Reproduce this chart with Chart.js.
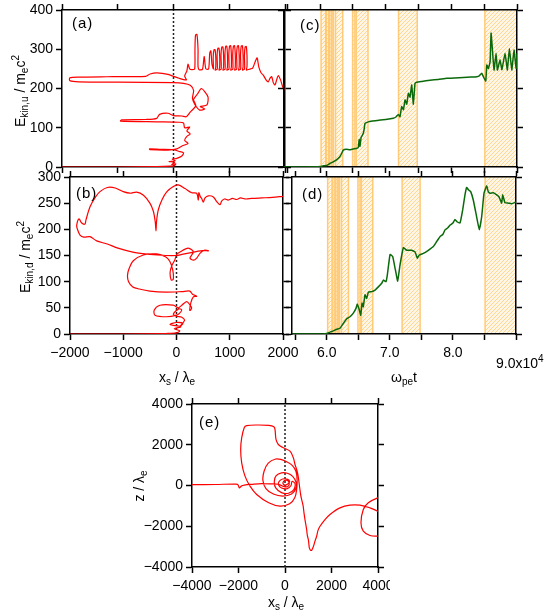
<!DOCTYPE html>
<html>
<head>
<meta charset="utf-8">
<script src="https://cdn.jsdelivr.net/npm/chart.js@4.4.1/dist/chart.umd.min.js"></script>
<style>
  body { margin:0; width:556px; height:610px; background:#fff; position:relative; overflow:hidden;
         font-family:"Liberation Sans", Arial, sans-serif; color:#000; }
  canvas { position:absolute; }
  .t { position:absolute; font-size:14px; white-space:nowrap; line-height:1; }
  .t sub { font-size:10px; vertical-align:-3px; }
  .t sup { font-size:10px; vertical-align:6px; }
  .rot { transform:translate(-50%,-50%) rotate(-90deg); }
  .ctr { transform:translate(-50%,-50%); }
  .tag { letter-spacing:1px; font-size:15px; }
</style>
</head>
<body>
<canvas id="panelA" width="285" height="176" style="left:15px;top:0"></canvas>
<canvas id="panelB" width="285" height="200" style="left:15px;top:170px"></canvas>
<canvas id="panelC" width="250" height="176" style="left:278px;top:0"></canvas>
<canvas id="panelD" width="250" height="200" style="left:278px;top:170px"></canvas>
<canvas id="panelE" width="250" height="200" style="left:140px;top:395px"></canvas>

<div class="t tag" style="left:72px;top:15px">(a)</div>
<div class="t tag" style="left:76px;top:185px">(b)</div>
<div class="t tag" style="left:300px;top:17px">(c)</div>
<div class="t tag" style="left:302px;top:186px">(d)</div>
<div class="t tag" style="left:199px;top:414px">(e)</div>

<div class="t rot" style="left:20px;top:91px">E<sub>kin,u</sub> / m<sub>e</sub>c<sup>2</sup></div>
<div class="t rot" style="left:25px;top:257px">E<sub>kin,d</sub> / m<sub>e</sub>c<sup>2</sup></div>
<div class="t ctr" style="left:177px;top:378px">x<sub>s</sub> / λ<sub>e</sub></div>
<div class="t ctr" style="left:404px;top:378px">ω<sub>pe</sub>t</div>
<div class="t" style="left:496px;top:354px">9.0x10<sup>4</sup></div>
<div class="t rot" style="left:140px;top:486px">z / λ<sub>e</sub></div>
<div class="t ctr" style="left:286px;top:603px">x<sub>s</sub> / λ<sub>e</sub></div>

<script>
// (a) upstream-side energy vs shock-frame position
var aX = [-2000,-1000,-300,-60,10,40,-30,20,-80,30,-20,60,150,180,90,0,-250,-430,-420,-100,
  60,160,260,200,240,300,240,290,200,180,100,-300,-950,-930,-500,-300,-250,-100,0,150,
  230,300,400,360,430,500,570,620,600,480,560,470,380,340,360,300,180,0,-1000,-1700,
  -1860,-1860,-1700,-1200,-500,-420,-300,-100,100,230,200,240,260,290,330,380,385,395,420,440,
  440,460,520,550,580,630,650,670,690,
  715,712,725,745,758,758,748,
  785,782,795,815,828,828,818,
  855,852,865,885,898,898,888,
  925,922,935,955,968,968,958,
  995,992,1005,1025,1038,1038,1028,
  1065,1062,1075,1095,1108,1108,1098,
  1135,1132,1145,1165,1178,1178,1168,
  1205,1202,1215,1235,1248,1248,1238,
  1275,1272,1285,1305,1318,1318,1308,
  1380,1420,1470,1500,1530,1570,1610,1660,1700,1730,1761,1790,1821,1850,1880,1920,1970,2000];
var aE = [0,0,1,2,3,8,6,12,14,16,20,22,28,36,40,44,45,46,44,43,
  46,54,60,68,78,84,92,102,100,112,114,115,117,120,121,124,134,137,131,130,
  128,140,156,172,186,200,190,178,158,154,148,145,160,175,195,208,213,215,216,217,
  220,227,229,230,231,237,240,236,226,222,232,245,262,250,248,250,300,336,338,300,
  256,248,249,282,250,250,290,296,262,
  250,280,298,299,280,255,247,
  250,283,302,303,283,255,247,
  250,285,305,306,285,255,247,
  250,285,307,308,285,255,247,
  250,285,308,309,285,255,247,
  250,285,308,309,285,255,247,
  250,285,308,309,285,255,247,
  250,285,308,309,285,255,247,
  250,285,306,307,285,255,247,
  250,252,270,278,255,240,234,222,217,226,230,215,209,222,233,222,200,198];

// (b) downstream-side energy vs shock-frame position
var bX = [-2000,-1000,-200,0,60,-40,80,-120,0,120,60,150,100,0,-60,40,97,60,0,-184,
  -404,-417,-310,-60,30,100,190,250,285,250,270,316,380,300,250,100,-200,-500,-700,-820,
  -900,-920,-890,-811,-623,-372,-200,-122,-70,-60,-100,-120,-90,-30,3,120,222,316,254,320,
  379,441,520,600,450,300,100,0,-200,-500,-800,-1100,-1300,-1500,-1624,-1740,-1812,-1860,-1874,-1830,
  -1780,-1720,-1700,-1624,-1520,-1437,-1300,-1150,-1000,-873,-748,-620,-500,-436,-400,-385,-375,-342,-270,-180,
  -60,34,160,285,379,410,420,450,473,504,536,598,692,755,817,848,900,973,1050,1130,
  1200,1300,1412,1600,1800,2000];
var bE = [0,0,1,2,6,10,14,18,22,20,14,26,32,34,38,48,46,40,36,33,
  36,46,55,55,50,55,62,56,49,45,60,71,72,76,82,81,80,82,86,90,
  100,112,125,140,151,153,147,138,122,105,103,118,130,142,152,160,164,157,145,141,
  145,154,160,159,159,156,152,150,150,152,156,164,172,178,186,185,189,200,208,220,
  212,210,218,243,262,272,280,279,272,269,271,265,250,235,215,197,215,237,257,272,
  282,285,278,270,269,256,270,262,259,252,260,264,262,253,247,254,258,256,259,257,
  260,258,259,260,261,263];

// (c) upstream energy vs time
var cT = [54500,58000,60000,60490,61000,61500,62000,62500,63000,63300,
  63530,64030,64500,65050,65500,65820,65950,66080,66250,66340,
  66580,66700,66840,67340,68000,69130,70000,71150,71600,71920,
  72170,72430,72700,72940,73200,73450,73700,73960,74210,74460,
  74720,75500,76750,78000,79300,80500,81820,83000,83870,84300,
  84630,84880,85240,85400,85640,85900,86050,86250,86500,86810,
  87010,87420,87700,88180,88530,88840,89200,89550,89860,90000];
var cE = [0,0,1,3,4,9,13,18,26,35,
  43,45,44,46,47,50,70,53,76,78,
  86,95,111,115,117,120,121,124,128,134,
  128,154,146,171,160,188,178,209,160,213,
  216,218,221,223,226,227,228,229,230,233,
  239,230,219,260,251,268,341,300,247,290,
  247,273,248,290,247,302,247,298,251,290];

// (d) downstream energy vs time
var dT = [54550,59460,60000,60600,61050,61600,62110,62630,63170,63690,
  64220,64640,64850,65170,65390,65600,65800,66070,66340,66600,
  67130,67660,68180,68720,68970,69400,69610,70040,70460,70830,
  71250,71620,72150,72680,73470,74000,74360,74680,75310,76100,
  76900,77500,77950,78400,78750,79200,79540,80000,80330,80700,
  81130,81550,81900,82180,82500,82820,83230,83760,84180,84560,
  84930,85350,85600,85880,86400,86940,87300,87730,87890,88250,
  88800,89310,90000];
var dE = [0,0,1,4,6,9,11,20,29,33,
  40,49,57,46,36,59,52,75,68,80,
  81,84,90,97,103,100,113,152,148,126,
  101,132,165,160,160,157,145,151,154,160,
  167,178,186,190,199,203,208,212,219,214,
  212,237,265,280,275,272,256,224,199,224,
  269,283,272,269,270,266,262,250,266,251,
  250,249,252];

// hatched time windows shared by (c) and (d)
var bandLo = [60150,60950,61400,61800,62350,64950,65500,71950,85100];
var bandHi = [60850,61300,61700,62050,63450,65300,67300,74800,90000];

// (e) orbit in the x_s - z plane
var eX = [-4000,-3000,-2100,-2020,-1960,-1880,-1750,-1400,-1000,-600,-300,-150,
  -50,100,180,150,50,-60,-80,20,120,200,120,-100,-250,-280,-150,100,260,300,
  430,380,150,-150,-400,-460,-380,-150,100,330,480,
  470,280,-100,-500,-820,-950,-900,-720,-400,-150,50,300,470,520,
  500,420,200,-215,-700,-1218,-1505,-1720,-1863,-1906,-1863,-1750,-1648,-1200,-700,-480,-430,-387,-287,-72,215,358,430,502,
  560,620,680,717,780,817,870,931,960,1003,1030,1046,1100,1146,1220,1290,1361,1420,1505,1720,
  1935,2365,2794,3224,3654,3984,4300,4500,4200,3984,3583,3368,3267,3368,3654,3984,4300];
var eZ = [40,50,70,30,-120,-30,20,60,90,80,60,0,
  -50,-60,50,200,260,200,80,20,80,180,300,320,200,30,-120,-150,0,200,
  100,-200,-380,-350,-120,200,480,620,600,450,150,
  -150,-420,-520,-420,-150,250,700,1100,1300,1270,1180,1000,700,300,
  -200,-600,-900,-1015,-850,-442,-33,458,1113,1768,2341,2850,2940,2970,2950,2880,2750,2259,2013,1850,1686,1359,1031,786,
  500,0,-500,-690,-1000,-1340,-1750,-2160,-2450,-2650,-2900,-3060,-3180,-3180,-3000,-2730,-2490,-2200,-2000,-1670,
  -1420,-1100,-966,-966,-1097,-1260,-1550,-1000,-570,-606,-851,-1179,-1833,-2243,-2456,-2488,-2450];

// axis ranges and tick positions
var posLim = [-2000, 2000], upLim = [0, 400], downLim = [0, 300];
var timeLim = [54500, 90000], orbitLim = [-4000, 4000];
var posTicks = [-2000, -1000, 0, 1000, 2000];
var upTicks = [0, 100, 200, 300, 400];
var downTicks = [0, 50, 100, 150, 200, 250, 300];
var timeTicks = [55000, 60000, 65000, 70000, 75000, 80000, 85000, 90000];
var orbitTicks = [-4000, -2000, 0, 2000, 4000];

var RED = '#ff0000', GREEN = '#0a6a0a';

function signed(v) { return v < 0 ? '\u2212' + (-v) : String(v); }
function timeLabel(v) { return (v % 10000 === 0 && v < 90000) ? (v / 10000).toFixed(1) : ''; }

// pin each axis to a fixed thickness so the plot boxes land where wanted
function fixSize(px) {
  return function (s) {
    if (s.isHorizontal()) s.height = px; else s.width = px;
    s.paddingLeft = s.paddingRight = s.paddingTop = s.paddingBottom = 0;
  };
}
function axis(dir, pos, lim, list, room, labels) {
  var ticks = {display: !!labels, autoSkip: false, maxRotation: 0,
    padding: dir === 'x' ? 5 : 3, color: '#000', font: {family: 'Liberation Sans', size: 14}};
  if (labels) ticks.callback = labels;
  return {
    type: 'linear', axis: dir, position: pos, min: lim[0], max: lim[1],
    afterBuildTicks: function (s) { s.ticks = list.map(function (v) { return {value: v}; }); },
    afterFit: fixSize(room),
    border: {display: true, color: '#000', width: 1.5},
    grid: {drawOnChartArea: false, drawTicks: true, tickLength: 6, tickWidth: 1.5, tickColor: '#000'},
    ticks: ticks
  };
}
function trace(xs, ys, color, width, tension) {
  return {data: xs.map(function (v, i) { return {x: v, y: ys[i]}; }), showLine: true,
    borderColor: color, borderWidth: width, pointRadius: 0, tension: tension, order: 1};
}
function zeroLine(lim) {
  return {data: [{x: 0, y: lim[0]}, {x: 0, y: lim[1]}], showLine: true, borderColor: '#222',
    borderWidth: 1.5, borderDash: [2, 2], pointRadius: 0, order: 2};
}

// hatch tile for the shaded windows
var tile = document.createElement('canvas');
tile.width = tile.height = 4;
(function () {
  var g = tile.getContext('2d');
  g.fillStyle = 'rgba(255,240,214,0.6)';
  g.fillRect(0, 0, 4, 4);
  g.strokeStyle = '#ffd591';
  g.lineWidth = 1;
  g.beginPath();
  g.moveTo(-1, 5); g.lineTo(5, -1);
  g.moveTo(-1, 1); g.lineTo(1, -1);
  g.moveTo(3, 5); g.lineTo(5, 3);
  g.stroke();
})();

var bands = {
  id: 'bands',
  beforeDraw: function (chart) {
    var ctx = chart.ctx, a = chart.chartArea, x = chart.scales.x;
    ctx.save();
    ctx.beginPath(); ctx.rect(a.left, a.top, a.right - a.left, a.bottom - a.top); ctx.clip();
    ctx.fillStyle = ctx.createPattern(tile, 'repeat');
    ctx.strokeStyle = '#ffcb78';
    ctx.lineWidth = 1.5;
    for (var i = 0; i < bandLo.length; i++) {
      var x0 = x.getPixelForValue(bandLo[i]), x1 = x.getPixelForValue(bandHi[i]);
      ctx.fillRect(x0, a.top, x1 - x0, a.bottom - a.top);
      ctx.beginPath();
      ctx.moveTo(x0, a.top); ctx.lineTo(x0, a.bottom);
      ctx.moveTo(x1, a.top); ctx.lineTo(x1, a.bottom);
      ctx.stroke();
    }
    ctx.restore();
  }
};

function panel(id, datasets, scales, extra) {
  return new Chart(document.getElementById(id), {
    type: 'scatter',
    data: {datasets: datasets},
    options: {
      responsive: false, animation: false, devicePixelRatio: 1, events: [],
      layout: {padding: 0},
      plugins: {legend: {display: false}, tooltip: {enabled: false}},
      scales: scales
    },
    plugins: extra || []
  });
}

panel('panelA', [trace(aX, aE, RED, 1.2, 0.25), zeroLine(upLim)], {
  x: axis('x', 'bottom', posLim, posTicks, 9),
  x2: axis('x', 'top', posLim, posTicks, 10),
  y: axis('y', 'left', upLim, upTicks, 47, String),
  y2: axis('y', 'right', upLim, upTicks, 15)
});

panel('panelB', [trace(bX, bE, RED, 1.2, 0.3), zeroLine(downLim)], {
  x: axis('x', 'bottom', posLim, posTicks, 36, signed),
  x2: axis('x', 'top', posLim, posTicks, 7),
  y: axis('y', 'left', downLim, downTicks, 55, String),
  y2: axis('y', 'right', downLim, downTicks, 17)
});

panel('panelC', [trace(cT, cE, GREEN, 1.5, 0.1)], {
  x: axis('x', 'bottom', timeLim, timeTicks, 9),
  x2: axis('x', 'top', timeLim, timeTicks, 10),
  y: axis('y', 'left', upLim, upTicks, 6),
  y2: axis('y', 'right', upLim, upTicks, 11)
}, [bands]);

panel('panelD', [trace(dT, dE, GREEN, 1.5, 0.1)], {
  x: axis('x', 'bottom', timeLim, timeTicks, 36, timeLabel),
  x2: axis('x', 'top', timeLim, timeTicks, 7),
  y: axis('y', 'left', downLim, downTicks, 14),
  y2: axis('y', 'right', downLim, downTicks, 12)
}, [bands]);

panel('panelE', [trace(eX, eZ, RED, 1.2, 0.35), zeroLine(orbitLim)], {
  x: axis('x', 'bottom', orbitLim, orbitTicks, 28, signed),
  x2: axis('x', 'top', orbitLim, orbitTicks, 9),
  y: axis('y', 'left', orbitLim, orbitTicks, 52, signed),
  y2: axis('y', 'right', orbitLim, orbitTicks, 12)
});
</script>
</body>
</html>
